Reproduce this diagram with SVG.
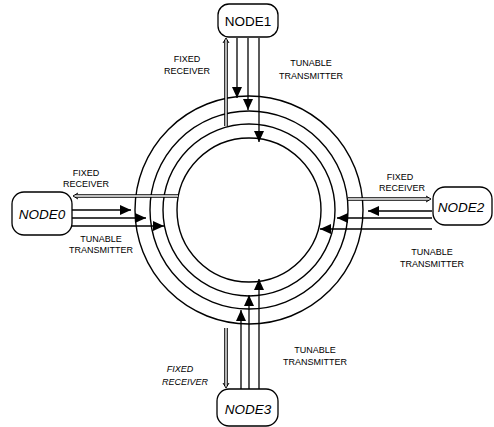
<svg xmlns="http://www.w3.org/2000/svg" width="494" height="427" viewBox="0 0 494 427">
<style>
.ring{fill:none;stroke:#000;stroke-width:1.4}
.node{fill:#fff;stroke:#000;stroke-width:1.3}
.nt{font-family:"Liberation Sans",Arial,sans-serif;font-size:13.5px;text-anchor:middle}
.it{font-style:italic}
.lb{font-family:"Liberation Sans",Arial,sans-serif;font-size:9px;text-anchor:middle}
.tx{fill:none;stroke:#000;stroke-width:1.3}
.rxo{fill:none;stroke:#000;stroke-width:3.6}
.rxi{fill:none;stroke:#fff;stroke-width:1.4}
.rxh{fill:none;stroke:#000;stroke-width:1}
</style>
<defs>
<marker id="ah" markerUnits="userSpaceOnUse" markerWidth="11" markerHeight="10" refX="11" refY="5" orient="auto">
<path d="M0,0 L11,5 L0,10 z" fill="#000"/>
</marker>
</defs>
<rect width="494" height="427" fill="#fff"/>
<g id="ring">
<circle class="ring" cx="249" cy="210" r="114"/>
<circle class="ring" cx="249" cy="210" r="99"/>
<circle class="ring" cx="249" cy="210" r="86"/>
<circle class="ring" cx="249" cy="210" r="72"/>
</g>
<g id="connectors">
<path class="rxo" d="M226,126 V40"/><path class="rxi" d="M226,126 V40"/>
<path class="rxh" d="M223,43 L226,38 L229,43"/>
<path class="tx" d="M237,38 V98" marker-end="url(#ah)"/>
<path class="tx" d="M248,38 V110" marker-end="url(#ah)"/>
<path class="tx" d="M259,38 V142" marker-end="url(#ah)"/>
<path class="rxo" d="M178,196 H75"/><path class="rxi" d="M178,196 H75"/>
<path class="rxh" d="M78,193 L73,196 L78,199"/>
<path class="tx" d="M72,210 H131" marker-end="url(#ah)"/>
<path class="tx" d="M72,218 H146" marker-end="url(#ah)"/>
<path class="tx" d="M72,226 H164" marker-end="url(#ah)"/>
<path class="rxo" d="M348,199 H429"/><path class="rxi" d="M348,199 H429"/>
<path class="rxh" d="M426,196 L431,199 L426,202"/>
<path class="tx" d="M432,211 H368" marker-end="url(#ah)"/>
<path class="tx" d="M432,218 H337" marker-end="url(#ah)"/>
<path class="tx" d="M432,229 H320" marker-end="url(#ah)"/>
<path class="rxo" d="M226,328 V386"/><path class="rxi" d="M226,328 V386"/>
<path class="rxh" d="M223,383 L226,388 L229,383"/>
<path class="tx" d="M241,389 V310" marker-end="url(#ah)"/>
<path class="tx" d="M249,389 V295" marker-end="url(#ah)"/>
<path class="tx" d="M259,389 V279" marker-end="url(#ah)"/>
</g>
<g id="node1">
<rect class="node" x="218" y="4" width="60" height="33" rx="11"/>
<text class="nt" x="248" y="26">NODE1</text>
</g>
<g id="node0">
<rect class="node" x="12" y="192" width="60" height="43" rx="12"/>
<text class="nt it" x="42" y="219">NODE0</text>
</g>
<g id="node2">
<rect class="node" x="433" y="187" width="59" height="38" rx="12"/>
<text class="nt it" x="461" y="212">NODE2</text>
</g>
<g id="node3">
<rect class="node" x="217" y="389" width="61" height="37" rx="12"/>
<text class="nt it" x="248" y="414">NODE3</text>
</g>
<g id="labels">
<text class="lb" x="187" y="62">FIXED</text>
<text class="lb" x="187" y="74">RECEIVER</text>
<text class="lb" x="311" y="66">TUNABLE</text>
<text class="lb" x="311" y="79">TRANSMITTER</text>
<text class="lb" x="86" y="176">FIXED</text>
<text class="lb" x="86" y="187">RECEIVER</text>
<text class="lb" x="101" y="242">TUNABLE</text>
<text class="lb" x="101" y="253">TRANSMITTER</text>
<text class="lb" x="400" y="180">FIXED</text>
<text class="lb" x="402" y="191">RECEIVER</text>
<text class="lb" x="432" y="255">TUNABLE</text>
<text class="lb" x="432" y="267">TRANSMITTER</text>
<text class="lb it" x="180" y="372">FIXED</text>
<text class="lb it" x="185" y="385">RECEIVER</text>
<text class="lb" x="315" y="353">TUNABLE</text>
<text class="lb" x="315" y="365">TRANSMITTER</text>
</g>
</svg>
